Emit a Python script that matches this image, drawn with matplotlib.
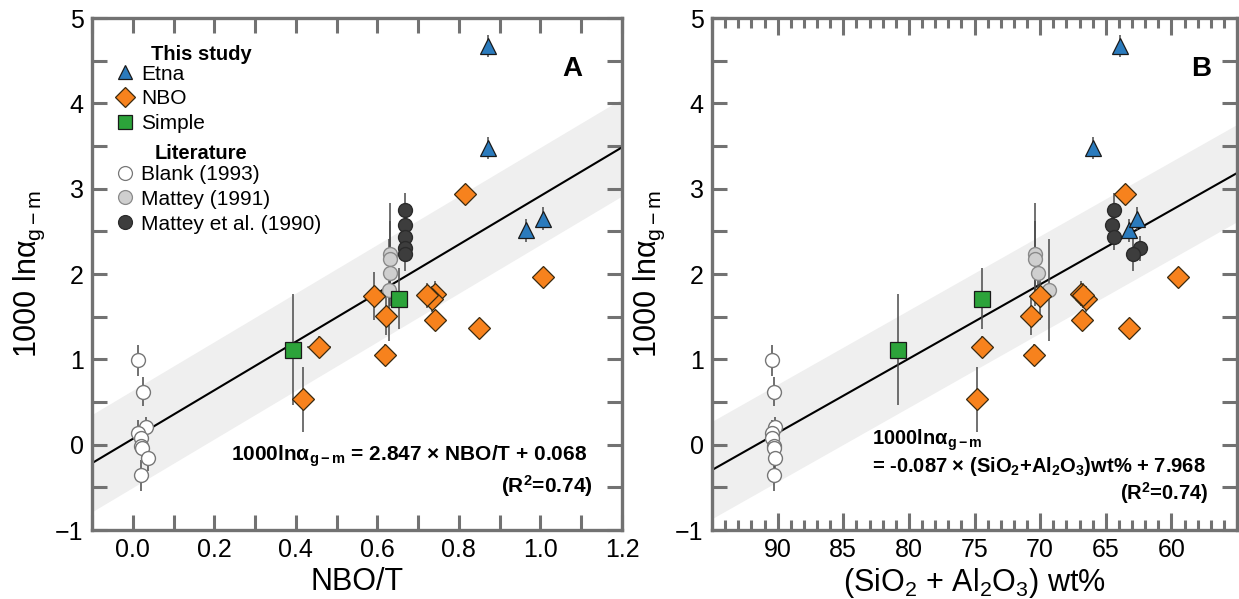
import matplotlib
matplotlib.use("Agg")
import matplotlib.pyplot as plt
import numpy as np
from matplotlib.ticker import MultipleLocator
from matplotlib.lines import Line2D

plt.rcParams["font.family"] = ["Liberation Sans", "DejaVu Sans"]
plt.rcParams["mathtext.fontset"] = "custom"
plt.rcParams["mathtext.rm"] = "Liberation Sans"
plt.rcParams["mathtext.it"] = "Liberation Sans:italic"
plt.rcParams["mathtext.bf"] = "Liberation Sans:bold"

# ---- data ----
# This study: Etna
etna_y = [4.67, 3.48, 2.51, 2.65]
etna_yerr = [0.13, 0.13, 0.13, 0.14]
etna_nbo = [0.872, 0.872, 0.965, 1.006]
etna_sial = [63.9, 66.0, 63.2, 62.6]

# This study: NBO series
nbo_y = [1.14, 0.53, 1.74, 1.51, 1.05, 1.77, 1.71, 1.75, 1.46, 2.94, 1.37, 1.97]
nbo_yerr = [0.13, 0.38, 0.28, 0.22, 0.13, 0.15, 0.15, 0.15, 0.12, 0.12, 0.11, 0.1]
nbo_nbo = [0.457, 0.417, 0.592, 0.620, 0.618, 0.742, 0.735, 0.722, 0.741, 0.815, 0.849, 1.006]
nbo_xerr = [0.03, 0, 0, 0, 0, 0, 0, 0, 0, 0, 0, 0]
nbo_sial = [74.4, 74.8, 70.0, 70.7, 70.5, 66.9, 66.5, 66.7, 66.8, 63.5, 63.2, 59.5]

# This study: simple
simple_y = [1.11, 1.71]
simple_yerr = [0.65, 0.36]
simple_nbo = [0.392, 0.654]
simple_sial = [80.8, 74.4]

# Literature: Blank (1993)
blank_y = [0.99, 0.62, 0.21, 0.14, 0.08, -0.01, -0.04, -0.16, -0.36]
blank_yerr = [0.18, 0.17, 0.12, 0.15, 0.1, 0.1, 0.1, 0.15, 0.18]
blank_nbo = [0.012, 0.026, 0.032, 0.012, 0.019, 0.020, 0.022, 0.038, 0.019]
blank_sial = [90.4, 90.3, 90.2, 90.4, 90.4, 90.3, 90.3, 90.2, 90.3]

# Literature: Mattey (1991)
m91_y = [2.23, 2.17, 2.01, 1.81]
m91_yerr = [0.6, 0.45, 0.3, 0.6]
m91_nbo = [0.630, 0.630, 0.630, 0.628]
m91_sial = [70.4, 70.4, 70.2, 69.3]

# Literature: Mattey et al. (1990)
m90_y = [2.75, 2.57, 2.43, 2.30, 2.24]
m90_yerr = [0.2, 0.15, 0.15, 0.15, 0.2]
m90_nbo = [0.667, 0.667, 0.667, 0.667, 0.667]
m90_sial = [64.4, 64.5, 64.4, 62.4, 62.9]

# regressions from the figure text
fit_a = (2.847, 0.068)
fit_b = (-0.087, 7.968)
band_half = 0.57

SPINE = "#727272"
ERR = "#4a4a4a"
C_ETNA = "#2b7bbd"
C_NBO = "#f7821d"
C_SIMPLE = "#2ca33a"

fig = plt.figure(figsize=(12.39, 5.99), dpi=100)
axA = fig.add_axes([92 / 1239, 1 - 530 / 599, 530 / 1239, 512 / 599])
axB = fig.add_axes([712 / 1239, 1 - 530 / 599, 525 / 1239, 512 / 599])


def draw_points(ax, xs):
    ebk = dict(ecolor=ERR, elinewidth=1.1, capsize=0, zorder=3)
    ax.errorbar(xs["blank"], blank_y, yerr=blank_yerr, fmt="o", ms=10,
                mfc="white", mec="#777777", mew=1.0, **ebk)
    ax.errorbar(xs["m91"], m91_y, yerr=m91_yerr, fmt="o", ms=10,
                mfc="#cfcfcf", mec="#8a8a8a", mew=1.0, **ebk)
    ax.errorbar(xs["m90"], m90_y, yerr=m90_yerr, fmt="o", ms=10,
                mfc="#3d3d3d", mec="#2b2b2b", mew=1.0, **ebk)
    ax.errorbar(xs["nbo"], nbo_y, yerr=nbo_yerr, xerr=xs.get("nbo_xerr"),
                fmt="D", ms=11, mfc=C_NBO, mec="#3a2a10", mew=0.9, **ebk)
    ax.errorbar(xs["simple"], simple_y, yerr=simple_yerr, fmt="s", ms=11.5,
                mfc=C_SIMPLE, mec="#1a1a1a", mew=0.9, **ebk)
    ax.errorbar(xs["etna"], etna_y, yerr=etna_yerr, fmt="^", ms=11,
                mfc=C_ETNA, mec="#1a1a1a", mew=0.9, **ebk)


def style_axes(ax):
    for sp in ax.spines.values():
        sp.set_color(SPINE)
        sp.set_linewidth(2.4)
    ax.tick_params(which="both", direction="in", top=True, right=True,
                   color=SPINE, width=2.2, labelsize=18, pad=6)
    ax.set_ylim(-1, 5)
    ax.yaxis.set_major_locator(MultipleLocator(1))
    ax.yaxis.set_minor_locator(MultipleLocator(0.5))
    ax.set_ylabel("1000 lnα$_{\\mathregular{g-m}}$", fontsize=22, labelpad=6)


# ---- panel A ----
xa = np.array([-0.1, 1.2])
ya = fit_a[0] * xa + fit_a[1]
axA.fill_between(xa, ya - band_half, ya + band_half, color="#efefef", lw=0, zorder=0)
axA.plot(xa, ya, color="black", lw=1.5, zorder=2)
draw_points(axA, dict(blank=blank_nbo, m91=m91_nbo, m90=m90_nbo, nbo=nbo_nbo,
                      nbo_xerr=nbo_xerr, simple=simple_nbo, etna=etna_nbo))
style_axes(axA)
axA.set_xlim(-0.1, 1.2)
axA.xaxis.set_major_locator(MultipleLocator(0.2))
axA.xaxis.set_minor_locator(MultipleLocator(0.1))
axA.tick_params(which="both", length=11)
axA.set_xticks([0, 0.2, 0.4, 0.6, 0.8, 1.0, 1.2])
axA.set_xticklabels(["0.0", "0.2", "0.4", "0.6", "0.8", "1.0", "1.2"])
axA.set_xlabel("NBO/T", fontsize=22, labelpad=3)
axA.text(0.926, 0.9, "A", transform=axA.transAxes, fontsize=20,
         fontweight="bold", ha="right", va="center")
axA.text(0.935, 0.145, "1000lnα$_{\\mathregular{g-m}}$ = 2.847 × NBO/T + 0.068",
         transform=axA.transAxes, fontsize=15, fontweight="bold", ha="right", va="center")
axA.text(0.945, 0.086, "(R$^{\\mathregular{2}}$=0.74)", transform=axA.transAxes,
         fontsize=15, fontweight="bold", ha="right", va="center")

# legends (headers as separate bold texts)
mk = dict(linestyle="none", markersize=10, markeredgewidth=0.9)
h_study = [
    Line2D([], [], marker="^", mfc=C_ETNA, mec="#1a1a1a", label="Etna", **mk),
    Line2D([], [], marker="D", mfc=C_NBO, mec="#3a2a10", label="NBO", **mk),
    Line2D([], [], marker="s", mfc=C_SIMPLE, mec="#1a1a1a", label="Simple", **mk),
]
h_lit = [
    Line2D([], [], marker="o", mfc="white", mec="#777777", label="Blank (1993)", **mk),
    Line2D([], [], marker="o", mfc="#cfcfcf", mec="#8a8a8a", label="Mattey (1991)", **mk),
    Line2D([], [], marker="o", mfc="#3d3d3d", mec="#2b2b2b", label="Mattey et al. (1990)", **mk),
]
leg_kw = dict(frameon=False, fontsize=15, handlelength=0.9, handletextpad=0.3,
              labelspacing=0.28, borderpad=0, borderaxespad=0)
leg1 = axA.legend(handles=h_study, loc="upper left",
                  bbox_to_anchor=(0.045, 0.909), **leg_kw)
axA.add_artist(leg1)
axA.legend(handles=h_lit, loc="upper left",
           bbox_to_anchor=(0.045, 0.713), **leg_kw)
axA.text(0.206, 0.928, "This study", transform=axA.transAxes, fontsize=14.5,
         fontweight="bold", ha="center", va="center")
axA.text(0.206, 0.736, "Literature", transform=axA.transAxes, fontsize=14.5,
         fontweight="bold", ha="center", va="center")

# ---- panel B ----
xb = np.array([95, 55])
yb = fit_b[0] * xb + fit_b[1]
axB.fill_between(xb, yb - band_half, yb + band_half, color="#efefef", lw=0, zorder=0)
axB.plot(xb, yb, color="black", lw=1.5, zorder=2)
draw_points(axB, dict(blank=blank_sial, m91=m91_sial, m90=m90_sial, nbo=nbo_sial,
                      simple=simple_sial, etna=etna_sial))
style_axes(axB)
axB.set_xlim(95, 55)
axB.xaxis.set_major_locator(MultipleLocator(5))
axB.xaxis.set_minor_locator(MultipleLocator(1))
axB.set_xticks([90, 85, 80, 75, 70, 65, 60])
axB.tick_params(axis="y", which="both", length=11)
axB.tick_params(axis="x", which="major", length=12)
axB.tick_params(axis="x", which="minor", length=7)
axB.set_xlabel("(SiO$_\\mathregular{2}$ + Al$_\\mathregular{2}$O$_\\mathregular{3}$) wt%",
               fontsize=22, labelpad=3)
axB.text(0.95, 0.9, "B", transform=axB.transAxes, fontsize=20,
         fontweight="bold", ha="right", va="center")
axB.text(0.305, 0.175, "1000lnα$_{\\mathregular{g-m}}$", transform=axB.transAxes,
         fontsize=14.5, fontweight="bold", ha="left", va="center")
axB.text(0.305, 0.125, "= -0.087 × (SiO$_\\mathregular{2}$+Al$_\\mathregular{2}$O$_\\mathregular{3}$)wt% + 7.968",
         transform=axB.transAxes, fontsize=14.5, fontweight="bold", ha="left", va="center")
axB.text(0.945, 0.072, "(R$^{\\mathregular{2}}$=0.74)", transform=axB.transAxes,
         fontsize=14.5, fontweight="bold", ha="right", va="center")

fig.savefig("out.png", dpi=100)
